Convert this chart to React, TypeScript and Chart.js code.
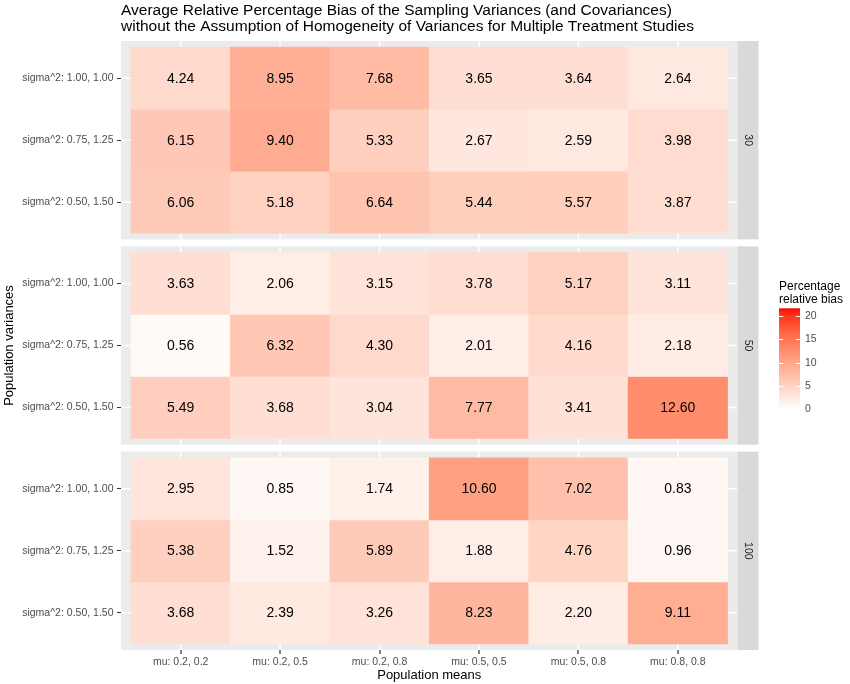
import { useEffect, useRef } from "react";
import { Chart, registerables } from "chart.js";

Chart.register(...registerables);

// ---------------- data ----------------
const titleLines = [
  "Average Relative Percentage Bias of the Sampling Variances (and Covariances)",
  "without the Assumption of Homogeneity of Variances for Multiple Treatment Studies",
];
const means = ["mu: 0.2, 0.2", "mu: 0.2, 0.5", "mu: 0.2, 0.8", "mu: 0.5, 0.5", "mu: 0.5, 0.8", "mu: 0.8, 0.8"];
// bottom to top (ggplot discrete y order)
const variances = ["sigma^2: 0.50, 1.50", "sigma^2: 0.75, 1.25", "sigma^2: 1.00, 1.00"];
const sampleSizes = ["30", "50", "100"];

// rows in the same order as `variances` (bottom to top)
const bias30 = [
  [6.06, 5.18, 6.64, 5.44, 5.57, 3.87],
  [6.15, 9.4, 5.33, 2.67, 2.59, 3.98],
  [4.24, 8.95, 7.68, 3.65, 3.64, 2.64],
];
const bias50 = [
  [5.49, 3.68, 3.04, 7.77, 3.41, 12.6],
  [0.56, 6.32, 4.3, 2.01, 4.16, 2.18],
  [3.63, 2.06, 3.15, 3.78, 5.17, 3.11],
];
const bias100 = [
  [3.68, 2.39, 3.26, 8.23, 2.2, 9.11],
  [5.38, 1.52, 5.89, 1.88, 4.76, 0.96],
  [2.95, 0.85, 1.74, 10.6, 7.02, 0.83],
];
const facetValues = [bias30, bias50, bias100];

const legendTitle = ["Percentage", "relative bias"];
const legendTicks = [0, 5, 10, 15, 20];
const fillMin = 0;
const fillMax = 21.6;

// ---------------- style / layout ----------------
const FONT = '"Liberation Sans", Arial, Helvetica, sans-serif';
const W = 850;
const H = 684;
const PANEL_UNITS = 3.2; // 3 rows + 0.6 expansion each side
const GAP_UNITS = 0.113;
const Y_MAX = 3 * PANEL_UNITS + 2 * GAP_UNITS;

function facetBase(f: number) {
  return (2 - f) * (PANEL_UNITS + GAP_UNITS);
}

// Lab interpolation white -> red (like scales::seq_gradient_pal)
function labToRgb(L: number, a: number, b: number): string {
  const fy = (L + 16) / 116;
  const fx = fy + a / 500;
  const fz = fy - b / 200;
  const f = (t: number) => (t * t * t > 0.008856 ? t * t * t : (t - 16 / 116) / 7.787);
  const X = 0.95047 * f(fx);
  const Y = 1.0 * f(fy);
  const Z = 1.08883 * f(fz);
  const lin = [
    3.2406 * X - 1.5372 * Y - 0.4986 * Z,
    -0.9689 * X + 1.8758 * Y + 0.0415 * Z,
    0.0557 * X - 0.204 * Y + 1.057 * Z,
  ];
  const g = lin.map((c) => {
    const v = c <= 0.0031308 ? 12.92 * c : 1.055 * Math.pow(c, 1 / 2.4) - 0.055;
    return Math.round(Math.max(0, Math.min(1, v)) * 255);
  });
  return `rgb(${g[0]},${g[1]},${g[2]})`;
}
const LOW = [100, 0, 0];
const HIGH = [53.2408, 80.0925, 67.2032];
function fillColor(v: number): string {
  const t = Math.max(0, Math.min(1, (v - fillMin) / (fillMax - fillMin)));
  return labToRgb(
    LOW[0] + (HIGH[0] - LOW[0]) * t,
    LOW[1] + (HIGH[1] - LOW[1]) * t,
    LOW[2] + (HIGH[2] - LOW[2]) * t
  );
}

// build points
type Pt = { x: number; y: [number, number]; v: number };
const points: Pt[] = [];
const colors: string[] = [];
facetValues.forEach((rows, f) => {
  rows.forEach((row, r) => {
    row.forEach((v, c) => {
      const yc = facetBase(f) + 0.6 + r;
      points.push({ x: c, y: [yc - 0.5, yc + 0.5], v });
      colors.push(fillColor(v));
    });
  });
});

const yTickValues: number[] = [];
const yTickLabels: string[] = [];
sampleSizes.forEach((_, f) => {
  variances.forEach((lab, r) => {
    yTickValues.push(facetBase(f) + 0.6 + r);
    yTickLabels.push(lab);
  });
});

const decorPlugin = {
  id: "decor",
  beforeDatasetsDraw(chart: any) {
    const { ctx, scales } = chart;
    const xs = scales.x;
    const ys = scales.y;
    const left = chart.chartArea.left;
    const right = chart.chartArea.right;
    ctx.save();
    sampleSizes.forEach((_, f) => {
      const b = facetBase(f);
      const top = ys.getPixelForValue(b + PANEL_UNITS);
      const bot = ys.getPixelForValue(b);
      ctx.fillStyle = "#EBEBEB";
      ctx.fillRect(left, top, right - left, bot - top);
      ctx.strokeStyle = "#FFFFFF";
      ctx.lineWidth = 1.5;
      means.forEach((_, c) => {
        const px = xs.getPixelForValue(c);
        ctx.beginPath();
        ctx.moveTo(px, top);
        ctx.lineTo(px, bot);
        ctx.stroke();
      });
      variances.forEach((_, r) => {
        const py = ys.getPixelForValue(b + 0.6 + r);
        ctx.beginPath();
        ctx.moveTo(left, py);
        ctx.lineTo(right, py);
        ctx.stroke();
      });
    });
    ctx.restore();
  },
  afterDatasetsDraw(chart: any) {
    const { ctx } = chart;
    const meta = chart.getDatasetMeta(0);
    ctx.save();
    ctx.fillStyle = "#000000";
    ctx.font = `14px ${FONT}`;
    ctx.textAlign = "center";
    ctx.textBaseline = "middle";
    meta.data.forEach((el: any, i: number) => {
      const cy = (el.y + el.base) / 2;
      ctx.fillText(points[i].v.toFixed(2), el.x, cy + 0.5);
    });
    ctx.restore();
  },
  afterDraw(chart: any) {
    const { ctx, scales } = chart;
    const xs = scales.x;
    const ys = scales.y;
    const right = chart.chartArea.right;
    const left = chart.chartArea.left;
    const bottom = chart.chartArea.bottom;
    ctx.save();
    // x axis tick marks
    ctx.fillStyle = "#333333";
    means.forEach((_, c) => {
      const px = Math.round(xs.getPixelForValue(c));
      ctx.fillRect(px - 0.6, bottom, 1.2, 4);
    });
    // strips
    sampleSizes.forEach((lab, f) => {
      const b = facetBase(f);
      const top = ys.getPixelForValue(b + PANEL_UNITS);
      const bot = ys.getPixelForValue(b);
      ctx.fillStyle = "#D9D9D9";
      ctx.fillRect(right, top, 21, bot - top);
      ctx.save();
      ctx.translate(right + 10.5, (top + bot) / 2);
      ctx.rotate(Math.PI / 2);
      ctx.fillStyle = "#1A1A1A";
      ctx.font = `10.5px ${FONT}`;
      ctx.textAlign = "center";
      ctx.textBaseline = "middle";
      ctx.fillText(lab, 0, 0);
      ctx.restore();
    });
    // title
    ctx.fillStyle = "#000000";
    ctx.font = `15.5px ${FONT}`;
    ctx.textAlign = "left";
    ctx.textBaseline = "alphabetic";
    ctx.fillText(titleLines[0], left, 15);
    ctx.fillText(titleLines[1], left, 31);
    // x axis title
    ctx.font = `13px ${FONT}`;
    ctx.textAlign = "center";
    ctx.fillText("Population means", (left + right) / 2, 679);
    // y axis title
    ctx.save();
    ctx.translate(12.5, (chart.chartArea.top + chart.chartArea.bottom) / 2);
    ctx.rotate(-Math.PI / 2);
    ctx.fillText("Population variances", 0, 0);
    ctx.restore();
    // legend
    const lx = 779;
    const lw = 21;
    const lTop = 308.3;
    const lBot = 409.5;
    ctx.font = `12px ${FONT}`;
    ctx.textAlign = "left";
    ctx.fillStyle = "#000000";
    ctx.fillText(legendTitle[0], lx, 289.5);
    ctx.fillText(legendTitle[1], lx, 303);
    const grad = ctx.createLinearGradient(0, lBot, 0, lTop);
    for (let i = 0; i <= 40; i++) {
      const t = i / 40;
      grad.addColorStop(t, fillColor(fillMin + t * (fillMax - fillMin)));
    }
    ctx.fillStyle = grad;
    ctx.fillRect(lx, lTop, lw, lBot - lTop);
    const vy = (v: number) => lBot - ((v - fillMin) / (fillMax - fillMin)) * (lBot - lTop);
    ctx.strokeStyle = "#FFFFFF";
    ctx.lineWidth = 1;
    ctx.font = `10.5px ${FONT}`;
    ctx.textBaseline = "middle";
    legendTicks.forEach((v) => {
      const py = Math.round(vy(v)) + 0.5;
      ctx.beginPath();
      ctx.moveTo(lx, py);
      ctx.lineTo(lx + lw / 5, py);
      ctx.moveTo(lx + lw - lw / 5, py);
      ctx.lineTo(lx + lw, py);
      ctx.stroke();
      ctx.fillStyle = "#4D4D4D";
      ctx.fillText(String(v), lx + lw + 5, vy(v));
    });
    ctx.restore();
  },
};

export default function App() {
  const ref = useRef<HTMLCanvasElement | null>(null);
  useEffect(() => {
    if (!ref.current) return;
    const chart = new Chart(ref.current, {
      type: "bar",
      data: {
        datasets: [
          {
            data: points as any,
            backgroundColor: colors,
            borderWidth: 0,
            barPercentage: 1,
            categoryPercentage: 1,
          },
        ],
      },
      options: {
        animation: false,
        responsive: false,
        events: [],
        layout: { padding: { left: 0, top: 41, right: W - 737.5, bottom: 0 } },
        plugins: { legend: { display: false }, title: { display: false }, tooltip: { enabled: false } },
        scales: {
          x: {
            type: "linear",
            offset: false,
            min: -0.6,
            max: 5.6,
            afterBuildTicks: (s: any) => {
              s.ticks = means.map((_, i) => ({ value: i }));
            },
            afterFit: (s: any) => {
              s.height = 34;
            },
            ticks: {
              autoSkip: false,
              maxRotation: 0,
              callback: (v: any) => means[Number(v)] ?? "",
              color: "#4D4D4D",
              font: { family: FONT, size: 10.5 },
              padding: 2,
            },
            grid: {
              offset: false,
              drawOnChartArea: false,
              drawTicks: true,
              tickLength: 3.5,
              tickColor: "rgba(0,0,0,0)",
              tickWidth: 1,
            },
            border: { display: false },
          },
          y: {
            type: "linear",
            offset: false,
            min: 0,
            max: Y_MAX,
            afterBuildTicks: (s: any) => {
              s.ticks = yTickValues.map((v) => ({ value: v }));
            },
            afterFit: (s: any) => {
              s.width = 121;
            },
            ticks: {
              autoSkip: false,
              callback: (_v: any, i: number) => yTickLabels[i],
              color: "#4D4D4D",
              font: { family: FONT, size: 10.5 },
              padding: 3.5,
            },
            grid: {
              offset: false,
              drawOnChartArea: false,
              drawTicks: true,
              tickLength: 4,
              tickColor: "#333333",
              tickWidth: 1,
            },
            border: { display: false },
          },
        },
      },
      plugins: [decorPlugin],
    });
    return () => chart.destroy();
  }, []);
  return (
    <div style={{ position: "absolute", left: 0, top: 0, width: W, height: H, background: "#FFFFFF" }}>
      <canvas ref={ref} width={W} height={H} style={{ width: W, height: H, display: "block" }} />
    </div>
  );
}
